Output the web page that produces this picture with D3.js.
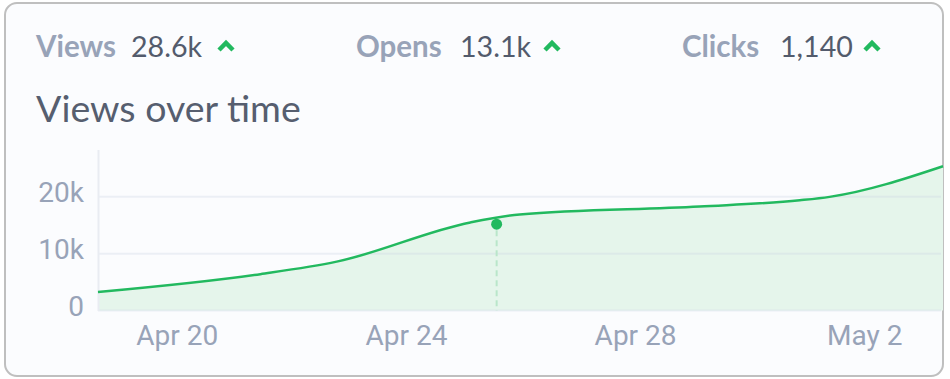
<!DOCTYPE html>
<html>
<head>
<meta charset="utf-8">
<script src="https://cdn.jsdelivr.net/npm/d3@7"></script>
<style>
  html, body { margin: 0; padding: 0; background: #ffffff; }
  svg { display: block; }
</style>
</head>
<body>
<script>
// Stats shown in the header
var statLabels = ["Views", "Opens", "Clicks"];
var statValues = ["28.6k", "13.1k", "1,140"];

// Views over time
var viewDates = [
    "2024-04-18T15:00", "2024-04-21T11:00", "2024-04-22T19:00",
    "2024-04-25T03:00", "2024-04-25T23:40", "2024-04-29T03:00",
    "2024-04-30T21:00", "2024-05-01T09:30", "2024-05-03T09:00"
];
var viewCounts = [
    3250, 6400, 8600,
    15500, 16900, 18300,
    19400, 20000, 25400
];

// Hovered point
var hoverDate = "2024-04-25T14:00";
var hoverCount = 15200;

// Axis ticks
var yTicks = [0, 10000, 20000];
var xTicks = ["2024-04-20", "2024-04-24", "2024-04-28", "2024-05-02"];
var xDomain = ["2024-04-18T15:00", "2024-05-03T09:00"];
var yMax = 28250;

var W = 950, H = 379;
var green = "#22b95f";
var labelColor = "#98a3b8";

var parse = d3.isoParse;
var data = viewDates.map(function (d, i) {
    return { date: parse(d), value: viewCounts[i] };
});

var svg = d3.select("body").append("svg")
    .attr("width", W)
    .attr("height", H);

// Card
svg.append("rect")
    .attr("x", 5).attr("y", 3)
    .attr("width", 938).attr("height", 373)
    .attr("rx", 12).attr("ry", 12)
    .attr("fill", "#fbfcfe")
    .attr("stroke", "#bfbfbf")
    .attr("stroke-width", 2);

// Header stats
var statLabelX = [36, 356, 682];
var statValueX = [131, 460, 780];
var chevronX = [226, 552, 872];

var header = svg.append("g").attr("font-family", "Lato, sans-serif");
statLabels.forEach(function (lab, i) {
    header.append("text")
        .attr("x", statLabelX[i]).attr("y", 57)
        .attr("font-size", 29.5).attr("font-weight", 700)
        .attr("fill", labelColor)
        .text(lab);
    header.append("text")
        .attr("x", statValueX[i]).attr("y", 57)
        .attr("font-size", 28.6)
        .attr("fill", "#535b6c")
        .text(statValues[i]);
    header.append("path")
        .attr("d", "M-7,4 L0,-3 L7,4")
        .attr("transform", "translate(" + chevronX[i] + ",46)")
        .attr("fill", "none")
        .attr("stroke", green)
        .attr("stroke-width", 4.5);
});

// Title
svg.append("text")
    .attr("x", 36).attr("y", 122)
    .attr("font-family", "Lato, sans-serif")
    .attr("font-size", 37.5)
    .attr("fill", "#565e6f")
    .text("Views over time");

// Scales
var x = d3.scaleTime()
    .domain(xDomain.map(parse))
    .range([98, 943]);

var y = d3.scaleLinear()
    .domain([0, yMax])
    .range([310.5, 150]);

// Area + line
var area = d3.area()
    .curve(d3.curveMonotoneX)
    .x(function (d) { return x(d.date); })
    .y0(y(0))
    .y1(function (d) { return y(d.value); });

var line = d3.line()
    .curve(d3.curveMonotoneX)
    .x(function (d) { return x(d.date); })
    .y(function (d) { return y(d.value); });

svg.append("path")
    .datum(data)
    .attr("d", area)
    .attr("fill", "#e5f5eb");

// Grid lines
svg.append("g")
    .selectAll("line")
    .data(yTicks)
    .enter()
    .append("line")
    .attr("x1", 98).attr("x2", 941)
    .attr("y1", function (d) { return y(d); })
    .attr("y2", function (d) { return y(d); })
    .attr("stroke", "#c8cfe0")
    .attr("stroke-opacity", 0.3)
    .attr("stroke-width", 2);

// Vertical axis line
svg.append("line")
    .attr("x1", 98.5).attr("x2", 98.5)
    .attr("y1", 150).attr("y2", 311)
    .attr("stroke", "#e9ecf2")
    .attr("stroke-width", 2);

svg.append("path")
    .datum(data)
    .attr("d", line)
    .attr("fill", "none")
    .attr("stroke", green)
    .attr("stroke-width", 2.5);

// Hover marker
var hx = x(parse(hoverDate));
svg.append("line")
    .attr("x1", hx).attr("x2", hx)
    .attr("y1", y(hoverCount) + 6).attr("y2", y(0))
    .attr("stroke", "#b9e6ca")
    .attr("stroke-width", 2)
    .attr("stroke-dasharray", "6,4");

svg.append("circle")
    .attr("cx", hx)
    .attr("cy", y(hoverCount))
    .attr("r", 5.5)
    .attr("fill", green);

// Y axis labels
var yAxis = d3.axisLeft(y)
    .tickValues(yTicks)
    .tickSize(0)
    .tickPadding(14)
    .tickFormat(function (d) { return d === 0 ? "0" : (d / 1000) + "k"; });

var yg = svg.append("g")
    .attr("transform", "translate(98,-4)")
    .call(yAxis);
yg.select(".domain").remove();
yg.selectAll("text")
    .attr("font-family", "Roboto, sans-serif")
    .attr("font-size", 28)
    .attr("fill", labelColor);

// X axis labels
var xAxis = d3.axisBottom(x)
    .tickValues(xTicks.map(parse))
    .tickSize(0)
    .tickPadding(14)
    .tickFormat(d3.timeFormat("%b %-d"));

var xg = svg.append("g")
    .attr("transform", "translate(0,311)")
    .call(xAxis);
xg.select(".domain").remove();
xg.selectAll("text")
    .attr("font-family", "Roboto, sans-serif")
    .attr("font-size", 28)
    .attr("fill", labelColor);
</script>
</body>
</html>
